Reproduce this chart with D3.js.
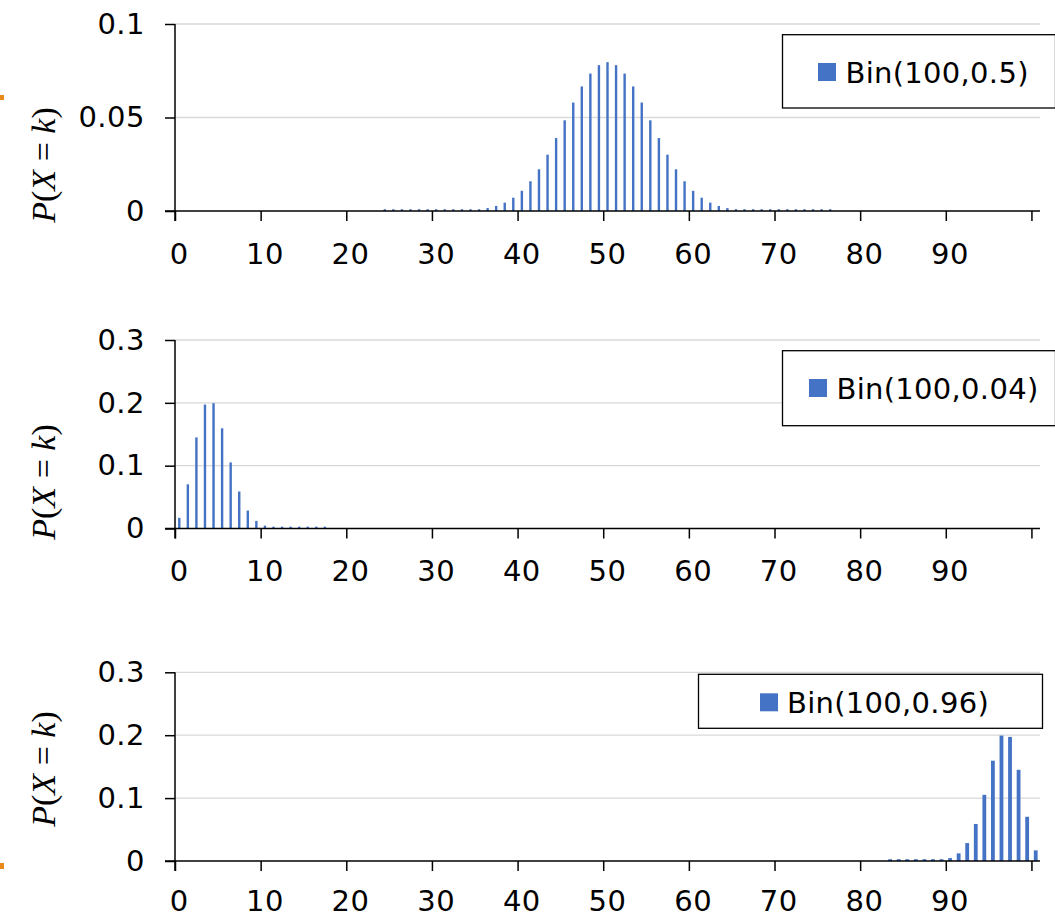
<!DOCTYPE html>
<html>
<head>
<meta charset="utf-8">
<script src="https://cdn.jsdelivr.net/npm/d3@7/dist/d3.min.js"></script>
<style>
  html, body { margin: 0; padding: 0; background: #fff; }
  svg { display: block; }
  .tick text, .lbl { font-family: "DejaVu Sans", sans-serif; }
</style>
</head>
<body>
<svg id="chart" width="1055" height="918"></svg>
<script>
// ---------- data ----------
const categories = d3.range(0, 101);            // k = 0 .. 100
const xTickLabels = ["0","10","20","30","40","50","60","70","80","90"];
const xTickValues = [0,10,20,30,40,50,60,70,80,90];

// Bin(100, 0.5): k = 24 .. 76
const p05Start = 24;
const p05Values = [
  0.00000006, 0.0000002, 0.0000006, 0.0000015, 0.0000039, 0.0000098, 0.0000232, 0.0000522,
  0.000113, 0.000232, 0.000458, 0.000864, 0.00156, 0.0027, 0.00447, 0.00711,
  0.0108, 0.0159, 0.0223, 0.0301, 0.039, 0.0485, 0.058, 0.0666, 0.0735, 0.078,
  0.0796,
  0.078, 0.0735, 0.0666, 0.058, 0.0485, 0.039, 0.0301, 0.0223, 0.0159, 0.0108,
  0.00711, 0.00447, 0.0027, 0.00156, 0.000864, 0.000458, 0.000232, 0.000113,
  0.0000522, 0.0000232, 0.0000098, 0.0000039, 0.0000015, 0.0000006, 0.0000002, 0.00000006
];
// Bin(100, 0.04): k = 0 .. 17
const p004Start = 0;
const p004Values = [
  0.0169, 0.0703, 0.145, 0.1973, 0.1994, 0.1595, 0.1052, 0.0589, 0.0285, 0.0121,
  0.00457, 0.00155, 0.000477, 0.000134, 0.0000346, 0.0000082, 0.0000018, 0.00000037
];
// Bin(100, 0.96): k = 83 .. 100
const p096Start = 83;
const p096Values = [
  0.00000037, 0.0000018, 0.0000082, 0.0000346, 0.000134, 0.000477, 0.00155, 0.00457,
  0.0121, 0.0285, 0.0589, 0.1052, 0.1595, 0.1994, 0.1973, 0.145, 0.0703, 0.0169
];

const seriesNames = ["Bin(100,0.5)", "Bin(100,0.04)", "Bin(100,0.96)"];
const yTicks1 = [0, 0.05, 0.1];
const yTickLabels1 = ["0", "0.05", "0.1"];
const yTicks23 = [0, 0.1, 0.2, 0.3];
const yTickLabels23 = ["0", "0.1", "0.2", "0.3"];

// ---------- layout ----------
const svg = d3.select("#chart");
const X0 = 175, X1 = 1040;
const barColor = "#4472C4";
const FS = 29;

const panels = [
  { name: seriesNames[0], start: p05Start, values: p05Values, yMax: 0.1, ticks: yTicks1, tickLabels: yTickLabels1,
    top: 24, bottom: 211, barW: 2.4, titleY: 165, xLabOff: 43,
    legend: { x: 782.5, y: 34.7, w: 273, h: 73.3, sw: 818, sy: 63, tx: 845.5, ty: 82.5 } },
  { name: seriesNames[1], start: p004Start, values: p004Values, yMax: 0.3, ticks: yTicks23, tickLabels: yTickLabels23,
    top: 340, bottom: 528.5, barW: 2.4, titleY: 482, xLabOff: 42,
    legend: { x: 782.5, y: 350.7, w: 273, h: 75, sw: 809, sy: 379, tx: 836.5, ty: 398.5 } },
  { name: seriesNames[2], start: p096Start, values: p096Values, yMax: 0.3, ticks: yTicks23, tickLabels: yTickLabels23,
    top: 672.3, bottom: 861, barW: 3.8, titleY: 769, xLabOff: 40,
    legend: { x: 698.5, y: 674.3, w: 344, h: 54, sw: 760, sy: 693.3, tx: 787, ty: 712.5 } }
];

const xEdge = d3.scaleLinear().domain([0, categories.length]).range([X0, X1]);
const xBand = d3.scaleBand().domain(categories).range([X0, X1]).padding(0);

panels.forEach(p => {
  const g = svg.append("g");
  const y = d3.scaleLinear().domain([0, p.yMax]).range([p.bottom, p.top]);

  // gridlines
  g.append("g").selectAll("line").data(p.ticks.filter(t => t > 0)).join("line")
    .attr("x1", X0).attr("x2", X1)
    .attr("y1", d => y(d)).attr("y2", d => y(d))
    .attr("stroke", "#d9d9d9").attr("stroke-width", 1.3);

  // bars
  const data = p.values.map((v, i) => ({ k: p.start + i, v }));
  g.append("g").selectAll("rect").data(data).join("rect")
    .attr("x", d => xBand(d.k) + xBand.bandwidth() / 2 - p.barW / 2)
    .attr("width", p.barW)
    .attr("y", d => Math.min(y(d.v), p.bottom - 1.8))
    .attr("height", d => Math.max(p.bottom - y(d.v), 1.8))
    .attr("fill", barColor);

  // y axis
  const yAxis = d3.axisLeft(y).tickValues(p.ticks)
    .tickFormat((d, i) => p.tickLabels[i]).tickSize(10).tickPadding(20);
  const ya = g.append("g").attr("transform", `translate(${X0},0)`).call(yAxis);
  ya.select(".domain").remove();
  ya.selectAll(".tick line").attr("stroke", "#000").attr("stroke-width", 1.5);
  ya.selectAll(".tick text").attr("font-size", FS).attr("fill", "#000")
    .attr("letter-spacing", 0.5);
  g.append("line").attr("x1", X0).attr("x2", X0).attr("y1", p.top).attr("y2", p.bottom + 10)
    .attr("stroke", "#000").attr("stroke-width", 1.5);

  // x axis
  const xAxis = d3.axisBottom(xEdge).tickValues([0,10,20,30,40,50,60,70,80,90,100])
    .tickFormat("").tickSize(10).tickSizeOuter(0);
  const xa = g.append("g").attr("transform", `translate(0,${p.bottom})`).call(xAxis);
  xa.select(".domain").remove();
  xa.selectAll(".tick line").attr("stroke", "#000").attr("stroke-width", 1.5);
  g.append("line").attr("x1", X0 - 10).attr("x2", X1).attr("y1", p.bottom).attr("y2", p.bottom)
    .attr("stroke", "#000").attr("stroke-width", 1.5);
  g.append("g").selectAll("text").data(xTickValues).join("text")
    .attr("class", "lbl")
    .attr("x", d => xBand(d) + xBand.bandwidth() / 2)
    .attr("y", p.bottom + p.xLabOff)
    .attr("dy", "0.36em")
    .attr("text-anchor", "middle")
    .attr("font-size", FS).attr("letter-spacing", 0.5)
    .text((d, i) => xTickLabels[i]);

  // y title
  const t = g.append("text")
    .attr("transform", `translate(43,${p.titleY}) rotate(-90)`)
    .attr("text-anchor", "middle").attr("dy", "0.35em")
    .attr("font-family", "'Liberation Serif', 'DejaVu Serif', serif")
    .attr("font-size", 34);
  t.append("tspan").attr("font-style", "italic").text("P");
  t.append("tspan").text("(");
  t.append("tspan").attr("font-style", "italic").text("X");
  t.append("tspan").text(" = ");
  t.append("tspan").attr("font-style", "italic").text("k");
  t.append("tspan").text(")");

  // legend
  const L = p.legend;
  g.append("rect").attr("x", L.x).attr("y", L.y).attr("width", L.w).attr("height", L.h)
    .attr("fill", "#fff").attr("stroke", "#000").attr("stroke-width", 1.3);
  g.append("rect").attr("x", L.sw).attr("y", L.sy).attr("width", 18).attr("height", 18)
    .attr("fill", barColor);
  g.append("text").attr("class", "lbl").attr("x", L.tx).attr("y", L.ty)
    .attr("font-size", FS).attr("letter-spacing", 0.3).attr("fill", "#000")
    .text(p.name);
});

// selection handle marks at the left edge
svg.append("rect").attr("x", 0).attr("y", 95).attr("width", 4).attr("height", 5).attr("fill", "#E8891C");
svg.append("rect").attr("x", 0).attr("y", 863).attr("width", 4).attr("height", 6).attr("fill", "#E8891C");
</script>
</body>
</html>
